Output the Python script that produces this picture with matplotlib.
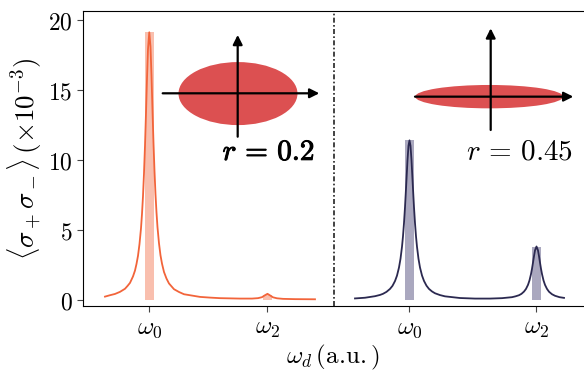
import matplotlib
matplotlib.use("Agg")
import matplotlib.pyplot as plt
import matplotlib.patheffects as pe
from matplotlib.patches import Ellipse

plt.rcParams["mathtext.fontset"] = "cm"
plt.rcParams["font.family"] = ["DejaVu Sans"]

# Data (x in a.u., y in units of 1e-3)

# r = 0.2 spectrum
x_r02 = [2.2, 2.7, 3.2, 3.7, 4.2, 4.45, 4.7, 5.0, 5.2, 5.35, 5.5, 5.65, 5.8,
         5.9, 6.0, 6.1, 6.2, 6.3, 6.4, 6.5, 6.63, 6.75, 6.85, 6.95, 7.05,
         7.15, 7.25, 7.35, 7.45, 7.6, 7.75, 7.9, 8.1, 8.35, 8.6, 9.1, 9.6,
         10.1, 11.7, 12.7, 13.7, 15.7, 16.9, 17.5, 17.9, 18.2, 18.45, 18.7,
         19.0, 19.4, 20.0, 21.2, 23.2]
y_r02 = [0.24, 0.34, 0.43, 0.58, 0.80, 1.00, 1.22, 1.68, 2.10, 2.57, 3.15,
         3.99, 5.11, 6.14, 7.40, 9.03, 11.00, 13.33, 15.78, 17.91, 19.12,
         18.08, 16.02, 13.57, 11.22, 9.22, 7.55, 6.26, 5.20, 4.05, 3.19, 2.60,
         2.00, 1.53, 1.18, 0.77, 0.57, 0.41, 0.22, 0.17, 0.13, 0.10, 0.10,
         0.13, 0.20, 0.34, 0.44, 0.33, 0.19, 0.12, 0.08, 0.06, 0.05]

# r = 0.45 spectrum
x_r045 = [27.2, 28.2, 29.2, 29.7, 30.0, 30.35, 30.7, 30.95, 31.2, 31.4, 31.6,
          31.75, 31.9, 32.0, 32.1, 32.2, 32.3, 32.45, 32.55, 32.65, 32.75,
          32.85, 33.0, 33.1, 33.2, 33.3, 33.4, 33.55, 33.7, 33.9, 34.1, 34.35,
          34.6, 34.9, 35.2, 35.7, 36.2, 37.7, 39.2, 40.7, 41.9, 42.9, 43.25,
          43.6, 43.85, 44.1, 44.3, 44.5, 44.65, 44.8, 44.9, 45.0, 45.1, 45.2,
          45.35, 45.5, 45.6, 45.7, 45.8, 45.9, 46.05, 46.2, 46.4, 46.6, 46.9,
          47.2, 47.65, 48.1]
y_r045 = [0.11, 0.16, 0.27, 0.36, 0.44, 0.58, 0.79, 1.01, 1.35, 1.74, 2.32,
          2.94, 3.80, 4.55, 5.49, 6.62, 7.94, 9.98, 11.01, 11.40, 11.01, 9.98,
          7.94, 6.62, 5.49, 4.55, 3.80, 2.94, 2.32, 1.75, 1.36, 1.02, 0.79,
          0.61, 0.48, 0.35, 0.26, 0.14, 0.10, 0.10, 0.13, 0.20, 0.26, 0.34,
          0.44, 0.60, 0.79, 1.08, 1.40, 1.85, 2.23, 2.67, 3.13, 3.54, 3.82,
          3.54, 3.13, 2.67, 2.23, 1.85, 1.40, 1.08, 0.79, 0.59, 0.41, 0.30,
          0.20, 0.15]

# resonance positions and bar heights
res_r02 = [6.63, 18.45]
bar_r02 = [19.14, 0.32]
res_r045 = [32.65, 45.35]
bar_r045 = [11.43, 3.76]

split_x = 25.13
tick_pos = res_r02 + res_r045
tick_labels = [r"$\omega_0$", r"$\omega_2$", r"$\omega_0$", r"$\omega_2$"]
y_ticks = [0, 5, 10, 15, 20]

# Plot
fig = plt.figure(figsize=(5.84, 3.75), dpi=100)
ax = fig.add_axes([0.1421, 0.184, 0.8579, 0.7875])

ax.bar(res_r02, bar_r02, width=0.87, color="#f9bfae", zorder=1)
ax.bar(res_r045, bar_r045, width=0.9, color="#aaa8bf", zorder=1)
ax.plot(x_r02, y_r02, color="#f2643a", lw=1.3, zorder=2, solid_joinstyle="round")
ax.plot(x_r045, y_r045, color="#2b2950", lw=1.3, zorder=2, solid_joinstyle="round")

ax.axvline(split_x, color="#222222", lw=1.2, dashes=(3, 1.4, 1, 1.4), zorder=1)

# squeezing sketches
ell_color = "#dc5051"
ax.add_patch(Ellipse((15.5, 14.74), 11.9, 4.5, color=ell_color, lw=0, zorder=3))
ax.add_patch(Ellipse((40.62, 14.52), 14.8, 1.67, color=ell_color, lw=0, zorder=3))

arrow = dict(arrowstyle="-|>", color="black", lw=1.6, mutation_scale=14,
             shrinkA=0, shrinkB=0)
ax.annotate("", xy=(23.63, 14.76), xytext=(7.97, 14.76), arrowprops=arrow, zorder=4)
ax.annotate("", xy=(15.47, 18.93), xytext=(15.47, 11.66), arrowprops=arrow, zorder=4)
ax.annotate("", xy=(49.03, 14.52), xytext=(33.2, 14.52), arrowprops=arrow, zorder=4)
ax.annotate("", xy=(40.77, 19.4), xytext=(40.77, 12.14), arrowprops=arrow, zorder=4)

# the r = 0.2 label is bold in the original, thicken it with a stroke
ax.text(23.2, 10.0, r"$r\,=\,0.2$", fontsize=21, ha="right", va="baseline",
        path_effects=[pe.withStroke(linewidth=0.7, foreground="black")])
ax.text(48.97, 10.0, r"$r\,=\,0.45$", fontsize=21, ha="right", va="baseline")

ax.set_xlim(0, 50.1)
ax.set_ylim(-0.43, 20.66)
ax.set_xticks(tick_pos)
ax.set_xticklabels(tick_labels, fontsize=18)
ax.set_yticks(y_ticks)
ax.set_yticklabels([f"${v}$" for v in y_ticks], fontsize=17)
ax.tick_params(axis="both", direction="out", length=4, width=0.8, color="#444444")
ax.spines["right"].set_visible(False)

ax.set_xlabel(r"$\omega_d\,(\mathrm{a.\!u.})$", fontsize=18, labelpad=2)
ax.set_ylabel(r"$\langle\sigma_+\sigma_-\rangle\,(\times 10^{-3})$", fontsize=19.5, labelpad=3)

plt.savefig("out.png", dpi=100)
